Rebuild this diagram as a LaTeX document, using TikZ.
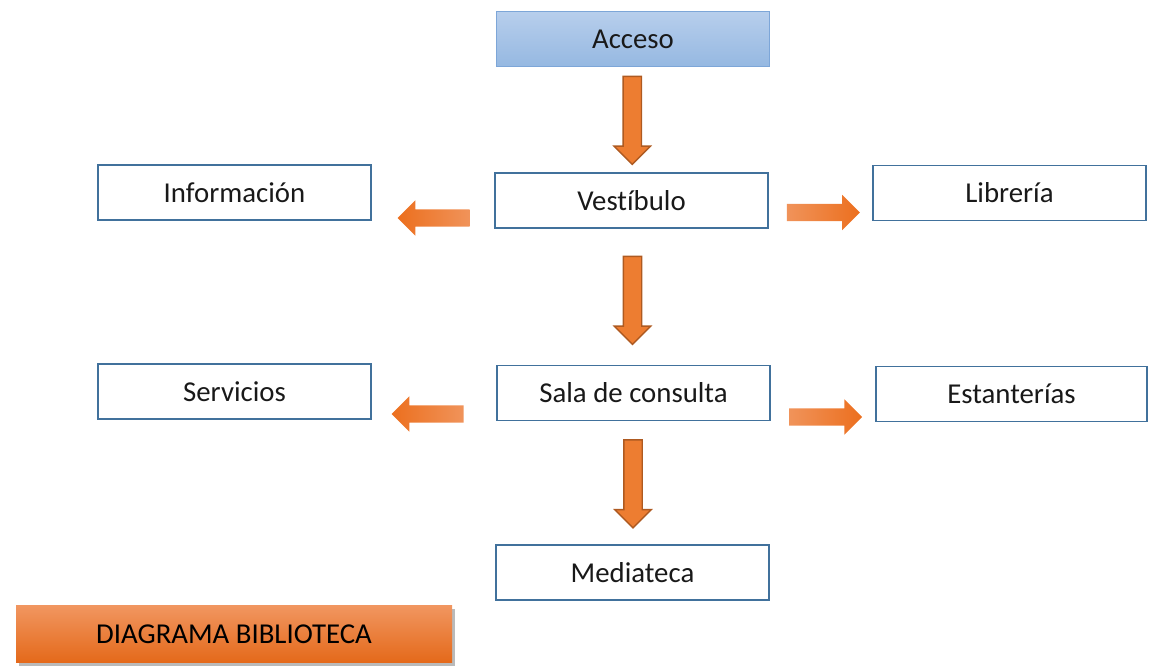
\documentclass[tikz,border=0pt]{standalone}
\usepackage{xcolor}
\usepackage{fontspec}
\setmainfont{Carlito}[Ligatures={NoCommon}]
\usepackage{tikz}
\usetikzlibrary{calc}
\usetikzlibrary{arrows.meta}
\usetikzlibrary{shapes}
\usetikzlibrary{shapes.arrows}
\usetikzlibrary{shadows}
\definecolor{roomblue}{HTML}{41719C}
\definecolor{accblue}{HTML}{7DA6D8}
\definecolor{acctop}{HTML}{B7CEEC}
\definecolor{accbot}{HTML}{95B8E1}
\definecolor{arrfill}{HTML}{ED7D31}
\definecolor{arrline}{HTML}{AE5A21}
\definecolor{arrdark}{HTML}{EC6F1E}
\definecolor{arrlight}{HTML}{F0935A}
\definecolor{tittop}{HTML}{F19660}
\definecolor{titbot}{HTML}{E4691A}
\tikzstyle{room} = [rectangle, draw=roomblue, line width=1.8pt, fill=white, minimum width=273pt, minimum height=55pt, inner sep=0, text=black!90, font=\fontsize{28.8}{34}\selectfont]
\tikzstyle{block} = [single arrow, inner sep=8.5pt, single arrow head extend=9pt, single arrow head indent=0pt, outer sep=0]
\tikzstyle{blockdown} = [block, shape border rotate=270, minimum height=88pt, fill=arrfill, draw=arrline, line width=1.4pt]
\tikzstyle{blockright} = [block, minimum height=73pt, left color=arrlight, right color=arrdark]
\tikzstyle{blockleft} = [block, shape border rotate=180, minimum height=72pt, left color=arrdark, right color=arrlight]

\begin{document}
\begin{tikzpicture}[x=1pt, y=-1pt]
\useasboundingbox (0,0) rectangle (1149,666);
\node [room, draw=accblue, line width=1pt, top color=acctop, bottom color=accbot] (Acc) at (633, 39.5) {Acceso};
\node [room] (Ves) at (631.5, 200.5) {Vestíbulo};
\node [room] (Inf) at (234.5, 192.5) {Información};
\node [room] (Lib) at (1009.5, 193) {Librería};
\node [room] (Ser) at (234.5, 391.5) {Servicios};
\node [room] (Sal) at (633.5, 393) {Sala de consulta};
\node [room, minimum width=271pt] (Est) at (1011.5, 394) {Estanterías};
\node [room] (Med) at (632.5, 572.5) {Mediateca};
% block arrows
\node [blockdown, yshift=4pt] (AccVes) at ($(Acc.south)!.5!(Ves.north)$) {};
\node [blockdown, yshift=1pt] (VesSal) at ($(Ves.south)!.5!(Sal.north)$) {};
\node [blockdown, yshift=3.5pt] (SalMed) at ($(Sal.south)!.5!(Med.north)$) {};
\node [blockleft, xshift=5pt, yshift=-21.5pt] (VesInf) at ($(Inf.east)!.5!(Ves.west)$) {};
\node [blockright, xshift=-1.5pt, yshift=-15.75pt] (VesLib) at ($(Ves.east)!.5!(Lib.west)$) {};
\node [blockleft, xshift=-2pt, yshift=-21.75pt] (SalSer) at ($(Ser.east)!.5!(Sal.west)$) {};
\node [blockright, xshift=-1.75pt, yshift=-23.5pt] (SalEst) at ($(Sal.east)!.5!(Est.west)$) {};
% title
\node [rectangle, minimum width=436pt, minimum height=57pt, top color=tittop, bottom color=titbot, text=black, font=\fontsize{28.8}{34}\selectfont, drop shadow={shadow xshift=3pt, shadow yshift=-3pt, fill=black!45, opacity=.6}] (Tit) at (234, 634) {DIAGRAMA BIBLIOTECA};
\end{tikzpicture}
\end{document}
